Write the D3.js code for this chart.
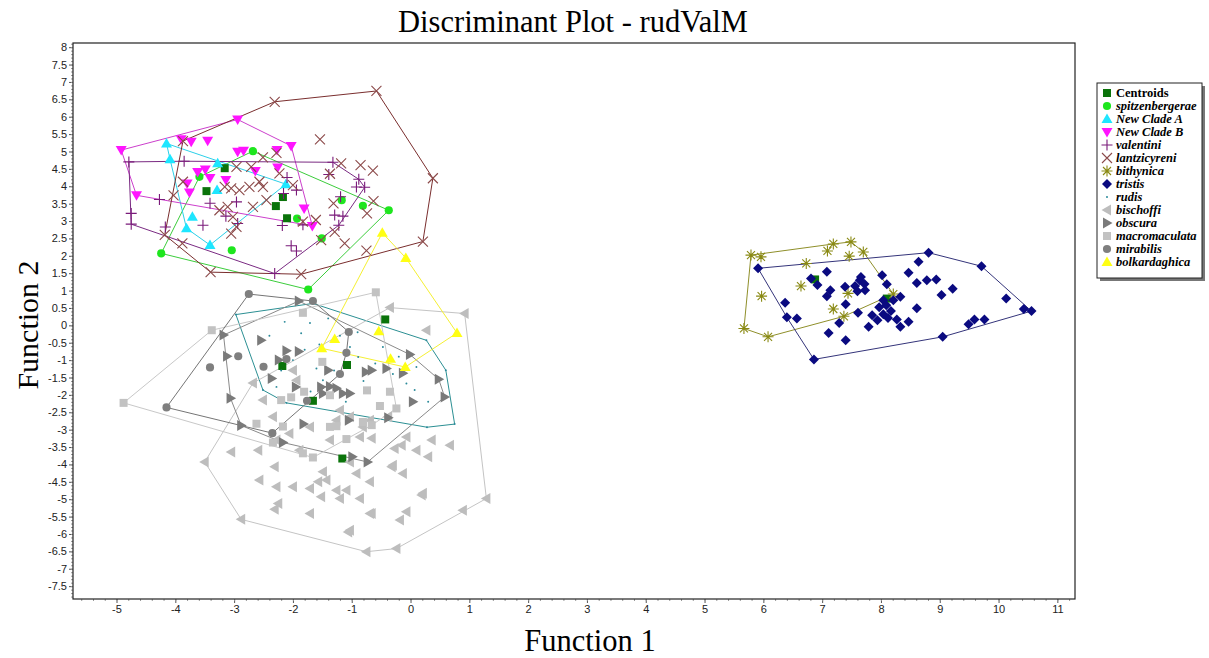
<!DOCTYPE html>
<html>
<head>
<meta charset="utf-8">
<script src="https://cdn.jsdelivr.net/npm/d3@7"></script>
<style>
  body { margin: 0; background: #fff; }
  text { font-family: "Liberation Sans", Arial, sans-serif; }
</style>
</head>
<body>
<svg id="chart" width="1209" height="658"></svg>
<script>
// values (Function 1, Function 2)
const centroids = [[-3.16,4.52],[-3.47,3.86],[-2.17,3.69],[-2.29,3.43],[-2.10,3.08],
  [-0.43,0.17],[-1.08,-1.14],[-2.18,-1.17],[-1.66,-2.17],[-1.16,-3.83],[6.88,1.32],[8.10,0.77]];

const spitzenbergerae = [[-2.68,5.01],[-1.93,3.07],[-1.17,3.60],[-0.81,3.44],[-0.37,3.31],
  [-1.51,2.50],[-3.04,2.16],[-4.24,2.07],[-1.74,1.03],[-3.59,4.27]];

const newCladeA = [[-4.15,5.23],[-4.09,4.78],[-3.28,4.66],[-3.29,3.89],[-3.71,3.12],
  [-3.81,2.79],[-3.41,2.31],[-2.12,4.06]];

const newCladeB = [[-4.92,5.04],[-4.66,3.74],[-3.90,5.35],[-3.73,5.28],[-3.45,5.31],[-2.94,5.92],
  [-2.03,5.16],[-2.84,5.02],[-2.94,4.99],[-2.27,5.04],[-2.26,4.54],[-2.64,4.44],[-3.14,4.18],
  [-3.41,4.24],[-3.62,4.41],[-3.49,4.48],[-3.80,4.08],[-3.76,3.82],[-1.81,3.36],[-1.67,2.86]];

const valentini = [[-4.79,4.70],[-4.75,3.22],[-4.75,2.91],[-4.27,3.62],[-3.85,4.72],[-4.17,2.83],
  [-3.53,2.88],[-3.41,3.51],[-3.14,3.14],[-2.96,3.55],[-2.94,2.93],[-2.18,2.87],[-2.10,4.25],
  [-1.94,3.89],[-2.16,3.79],[-1.32,4.69],[-1.39,4.34],[-0.88,4.20],[-0.92,3.98],[-0.78,3.97],
  [-1.19,3.70],[-1.29,3.17],[-1.15,3.14],[-1.22,2.88],[-2.03,2.29],[-1.94,2.14],[-2.31,1.49],[-1.83,2.89]];

const lantzicyreni = [[-2.31,6.43],[-0.58,6.74],[0.38,4.23],[0.21,2.41],[-1.86,1.47],[-3.40,1.53],
  [-4.18,2.60],[-3.87,5.30],[-1.54,5.35],[-1.18,4.66],[-0.85,4.61],[-0.64,4.45],[-1.37,4.36],
  [-0.63,3.57],[-0.74,3.22],[-1.31,3.51],[-1.12,2.36],[-1.52,2.45],[-0.75,2.15],[-1.83,2.98],
  [-1.61,3.03],[-1.29,2.69],[-2.51,4.83],[-2.28,4.96],[-4.03,3.74],[-3.87,4.13],[-3.88,2.36],
  [-2.96,4.56],[-2.71,4.56],[-3.16,3.98],[-3.05,3.94],[-2.91,3.89],[-2.74,3.98],[-2.57,4.13],
  [-3.25,3.31],[-3.11,3.41],[-3.02,3.12],[-2.96,2.83],[-3.05,2.64],[-2.68,3.41],[-2.45,3.60],
  [-2.23,4.37],[-2.00,4.03],[-2.51,3.98]];

const bithynica = [[5.79,2.02],[5.96,1.97],[5.67,-0.09],[6.08,-0.33],[5.97,0.84],[6.64,1.13],
  [6.73,1.78],[7.09,2.14],[7.19,2.34],[7.49,2.40],[7.70,2.11],[7.46,1.99],[7.19,0.47],[7.37,0.26],
  [7.44,0.92],[8.21,0.90]];

const tristis = [[5.91,1.64],[8.81,2.09],[9.71,1.70],[10.56,0.41],[10.43,0.47],[9.05,-0.33],[6.86,-0.98],
  [7.08,1.54],[6.81,1.35],[6.92,1.16],[7.39,1.11],[7.14,1.01],[7.08,0.84],[6.37,0.65],[6.40,0.23],
  [6.57,0.20],[7.40,0.61],[7.61,0.36],[7.29,0.07],[7.11,-0.22],[7.40,-0.43],[7.79,-0.04],[7.85,0.29],
  [7.56,1.13],[7.64,1.30],[7.72,1.19],[7.60,0.98],[7.73,1.01],[7.66,1.39],[8.02,1.44],[8.10,1.18],
  [8.04,0.72],[7.97,0.52],[8.09,0.58],[8.04,0.32],[8.17,0.41],[8.12,0.21],[7.94,0.15],[8.21,0.72],
  [8.33,0.82],[8.27,0.17],[8.33,-0.04],[8.47,0.10],[8.61,0.49],[8.47,1.51],[8.61,1.22],[8.78,1.30],
  [8.94,1.32],[9.03,0.87],[9.22,1.05],[8.64,1.83],[10.13,0.77],[9.49,0.03],[9.59,0.17],[9.76,0.17]];

const rudis = [[-2.97,0.31],[-1.66,0.63],[0.27,-0.43],[0.60,-1.29],[0.75,-2.84],[0.28,-2.93],
  [-2.11,-2.23],[-2.51,-1.86],[-2.14,0.10],[-1.86,-0.23],[-1.71,0.07],[-2.28,-1.77],[-1.60,-1.24],
  [-1.49,-1.58],[-1.35,-2.01],[-1.03,-0.62],[-0.89,-0.91],[-0.47,-0.62],[0.07,-1.86],[-0.07,-1.67],
  [-1.50,-1.00],[-1.30,-1.30],[-0.60,-1.10],[-1.90,-1.50],[-0.20,-0.90],[0.10,-1.20],[-2.00,-1.00],
  [-1.20,-0.30],[-0.80,-1.60],[-1.70,-1.90],[-2.40,-0.30],[-1.40,0.20],[-0.90,-0.20],[-0.30,-1.40],
  [-1.10,-2.20],[-2.20,-1.30],[-1.55,-0.55],[0.30,-2.20],[-0.50,-2.40],[-1.80,-0.70]];

const bischoffi = [[-3.50,-3.93],[-2.68,-1.66],[-0.35,0.51],[0.92,0.34],[1.29,-4.98],[0.89,-5.32],
  [-0.24,-6.42],[-0.75,-6.51],[-2.88,-5.58],[0.27,-0.14],[-3.05,-3.64],[-2.59,-3.59],[-2.31,-4.07],
  [-2.57,-4.45],[-2.28,-4.64],[-2.25,-5.12],[-2.31,-5.29],[-2.00,-4.64],[-1.71,-4.69],[-1.71,-5.41],
  [-1.52,-4.93],[-1.57,-4.50],[-1.43,-4.45],[-1.26,-4.74],[-1.09,-4.74],[-1.20,-4.98],[-0.86,-4.98],
  [-0.69,-4.50],[-0.69,-5.41],[-1.03,-5.89],[-0.18,-5.60],[-0.07,-5.36],[0.21,-4.83],[-0.13,-4.26],
  [-0.30,-4.02],[-0.27,-3.54],[-0.15,-3.45],[0.10,-3.59],[0.30,-3.78],[0.36,-3.30],[0.67,-3.45],
  [-0.07,-3.21],[-0.92,-4.26],[-1.03,-3.93],[-1.49,-4.21],[-1.89,-3.59],[-2.28,-3.30],[-2.00,-1.29],
  [-1.94,-1.58],[-2.51,-2.15],[-2.34,-2.63],[-2.06,-3.11],[-1.71,-2.92],[-1.26,-2.73],[-1.03,-2.63],
  [-0.81,-2.92],[-1.20,-2.44],[-0.69,-2.73],[-0.38,-2.63],[-1.37,-3.30],[-0.86,-3.21],[-0.66,-3.25],
  [-0.32,-4.07],[0.19,-4.88],[-0.66,-5.41],[-1.06,-5.94]];

const obscura = [[-1.90,0.70],[-3.18,-0.28],[-2.54,-0.43],[-3.12,-0.89],[-2.11,-0.73],[-1.90,-0.75],
  [-2.24,-1.00],[-2.36,-1.53],[-3.06,-2.10],[-2.88,-2.88],[-2.17,-3.37],[-1.82,-2.84],[-1.95,-1.77],
  [-1.52,-1.77],[-1.37,-1.76],[-1.26,-1.81],[-1.15,-1.96],[-1.49,-1.96],[-1.05,-2.73],[-0.76,-1.34],
  [-0.66,-1.29],[-0.41,-1.24],[-0.13,-1.38],[0.04,-2.20],[-0.01,-0.84],[0.48,-1.55],[0.58,-2.06],
  [-0.38,-2.66],[-0.73,-3.93],[-0.99,-3.78],[-1.40,-1.29],[-1.03,-1.96]];

const macromaculata = [[-4.88,-2.23],[-3.38,-0.14],[-1.83,0.36],[-0.59,0.95],[-1.50,-1.05],[-1.37,-2.01],
  [-1.81,-1.91],[-2.03,-2.07],[-2.20,-2.15],[-0.74,-1.87],[-0.35,-1.91],[-0.24,-2.39],[-0.52,-2.32],
  [-2.62,-2.83],[-2.17,-2.91],[-1.37,-2.92],[-1.26,-2.90],[-1.09,-3.27],[-2.34,-3.37],[-1.83,-3.68],
  [-1.66,-3.80],[-0.81,-2.78],[-0.66,-2.87]];

const mirabilis = [[-2.75,0.90],[-1.66,0.70],[-1.05,-0.19],[-1.09,-0.79],[-1.20,-1.40],[-1.76,-2.17],
  [-2.35,-3.10],[-4.15,-2.36],[-3.41,-1.21],[-2.93,-0.89],[-2.50,-1.19],[-2.11,-0.97]];

const bolkardaghica = [[-0.48,2.66],[-0.08,1.94],[0.79,-0.22],[-0.09,-1.20],[-0.34,-0.96],
  [-0.54,-0.17],[-1.29,-0.39],[-1.51,-0.66]];

const legendNames = ['Centroids','spitzenbergerae','New Clade A','New Clade B','valentini','lantzicyreni',
  'bithynica','tristis','rudis','bischoffi','obscura','macromaculata','mirabilis','bolkardaghica'];

const xTicks = d3.range(-5, 12, 1);
const yTicks = d3.range(-7.5, 8.01, 0.5);

// marker shapes
const shapes = {
  square: 'M-4,-4h8v8h-8Z',
  circle: d3.symbol(d3.symbolCircle, 52)(),
  up: 'M0,-5.5L5.5,4L-5.5,4Z',
  down: 'M0,5.5L5.5,-4L-5.5,-4Z',
  left: 'M-5.5,0L4,-5.5L4,5.5Z',
  right: 'M5.5,0L-4,-5.5L-4,5.5Z',
  plus: 'M-5.5,0H5.5M0,-5.5V5.5',
  cross: 'M-5,-5L5,5M-5,5L5,-5',
  star: 'M-5.5,0H5.5M0,-5.5V5.5M-4,-4L4,4M-4,4L4,-4',
  diamond: 'M0,-5L5,0L0,5L-5,0Z',
  dot: d3.symbol(d3.symbolCircle, 3)()
};
const stroked = new Set(['plus','cross','star']);

const groups = [
  {name: 'Centroids', data: centroids, shape: 'square', color: '#0a730a', hull: null},
  {name: 'spitzenbergerae', data: spitzenbergerae, shape: 'circle', color: '#1ee61e', hull: '#3ccd3c'},
  {name: 'New Clade A', data: newCladeA, shape: 'up', color: '#1ee6ff', hull: '#2ccfe8'},
  {name: 'New Clade B', data: newCladeB, shape: 'down', color: '#ff14ff', hull: '#cc3fcc'},
  {name: 'valentini', data: valentini, shape: 'plus', color: '#7a1a7a', hull: '#7a2a82'},
  {name: 'lantzicyreni', data: lantzicyreni, shape: 'cross', color: '#8c4a4a', hull: '#7a2e2e'},
  {name: 'bithynica', data: bithynica, shape: 'star', color: '#8a8a14', hull: '#8f8f2a'},
  {name: 'tristis', data: tristis, shape: 'diamond', color: '#0a0a80', hull: '#34347a'},
  {name: 'rudis', data: rudis, shape: 'dot', color: '#2a8a9a', hull: '#2b8f93'},
  {name: 'bischoffi', data: bischoffi, shape: 'left', color: '#bdbdbd', hull: '#c4c4c4'},
  {name: 'obscura', data: obscura, shape: 'right', color: '#7a7a7a', hull: '#8a8a8a'},
  {name: 'macromaculata', data: macromaculata, shape: 'square', color: '#c2c2c2', hull: '#c8c8c8'},
  {name: 'mirabilis', data: mirabilis, shape: 'circle', color: '#7f7f7f', hull: '#757575'},
  {name: 'bolkardaghica', data: bolkardaghica, shape: 'up', color: '#ffff14', hull: '#f5f032'}
];

const svg = d3.select('#chart');

const x = d3.scaleLinear().domain([-5.74, 11.30]).range([73, 1075]);
const y = d3.scaleLinear().domain([8.12, -7.87]).range([43, 599]);

// title + axis titles
const serif = '"Liberation Serif", "Times New Roman", serif';
svg.append('text').attr('x', 573).attr('y', 32).attr('text-anchor', 'middle')
  .style('font-family', serif).style('font-size', '30.5px')
  .text('Discriminant Plot - rudValM');
svg.append('text').attr('x', 590).attr('y', 651).attr('text-anchor', 'middle')
  .style('font-family', serif).style('font-size', '30.5px')
  .text('Function 1');
svg.append('text').attr('transform', 'translate(38,325) rotate(-90)').attr('text-anchor', 'middle')
  .style('font-family', serif).style('font-size', '30px')
  .text('Function 2');

// axes
const fmt = d => String(+d.toFixed(1));
const xAxis = svg.append('g').attr('transform', 'translate(0,599)')
  .call(d3.axisBottom(x).tickValues(xTicks).tickSize(4).tickPadding(2).tickFormat(fmt));
const xMinor = svg.append('g').attr('transform', 'translate(0,599)')
  .call(d3.axisBottom(x).tickValues(d3.range(-28, 57).map(i => i * 0.2)).tickSize(2).tickFormat(''));
const yAxis = svg.append('g').attr('transform', 'translate(73,0)')
  .call(d3.axisLeft(y).tickValues(yTicks).tickSize(4).tickPadding(2).tickFormat(fmt));
const yMinor = svg.append('g').attr('transform', 'translate(73,0)')
  .call(d3.axisLeft(y).tickValues(d3.range(-78, 82).map(i => i / 10)).tickSize(2).tickFormat(''));
[xAxis, xMinor, yAxis, yMinor].forEach(g => {
  g.select('.domain').remove();
  g.selectAll('line').attr('stroke', '#555');
  g.selectAll('text').style('font-size', '11px').attr('fill', '#222');
});
xMinor.selectAll('line').attr('stroke', '#999');
yMinor.selectAll('line').attr('stroke', '#999');

// frame
svg.append('rect').attr('x', 73).attr('y', 43).attr('width', 1002).attr('height', 556)
  .attr('fill', 'none').attr('stroke', '#222').attr('stroke-width', 1.2);

// hulls
const plot = svg.append('g');
groups.filter(g => g.hull).forEach(g => {
  const pts = g.data.map(d => [x(d[0]), y(d[1])]);
  const hull = d3.polygonHull(pts);
  plot.append('path').attr('d', 'M' + hull.join('L') + 'Z')
    .attr('fill', 'none').attr('stroke', g.hull).attr('stroke-width', 1);
});

// markers
function drawMarker(sel, g, px, py) {
  const p = sel.append('path').attr('d', shapes[g.shape])
    .attr('transform', `translate(${px},${py})`);
  if (stroked.has(g.shape)) p.attr('fill', 'none').attr('stroke', g.color).attr('stroke-width', 1.1);
  else p.attr('fill', g.color);
}
groups.forEach(g => {
  g.data.forEach(d => drawMarker(plot, g, x(d[0]), y(d[1])));
});

// legend
const lg = svg.append('g');
lg.append('rect').attr('x', 1100).attr('y', 86).attr('width', 105).attr('height', 195).attr('fill', '#777');
lg.append('rect').attr('x', 1097).attr('y', 83).attr('width', 105).attr('height', 195)
  .attr('fill', '#fff').attr('stroke', '#222').attr('stroke-width', 1);
legendNames.forEach((name, i) => {
  const g = groups[i];
  const ly = 93 + i * 13;
  drawMarker(lg, g, 1107, ly);
  lg.append('text').attr('x', 1116).attr('y', ly + 4)
    .style('font-family', serif)
    .style('font-size', '12.5px').style('font-weight', 'bold')
    .style('font-style', i === 0 ? 'normal' : 'italic')
    .text(name);
});
</script>
</body>
</html>
